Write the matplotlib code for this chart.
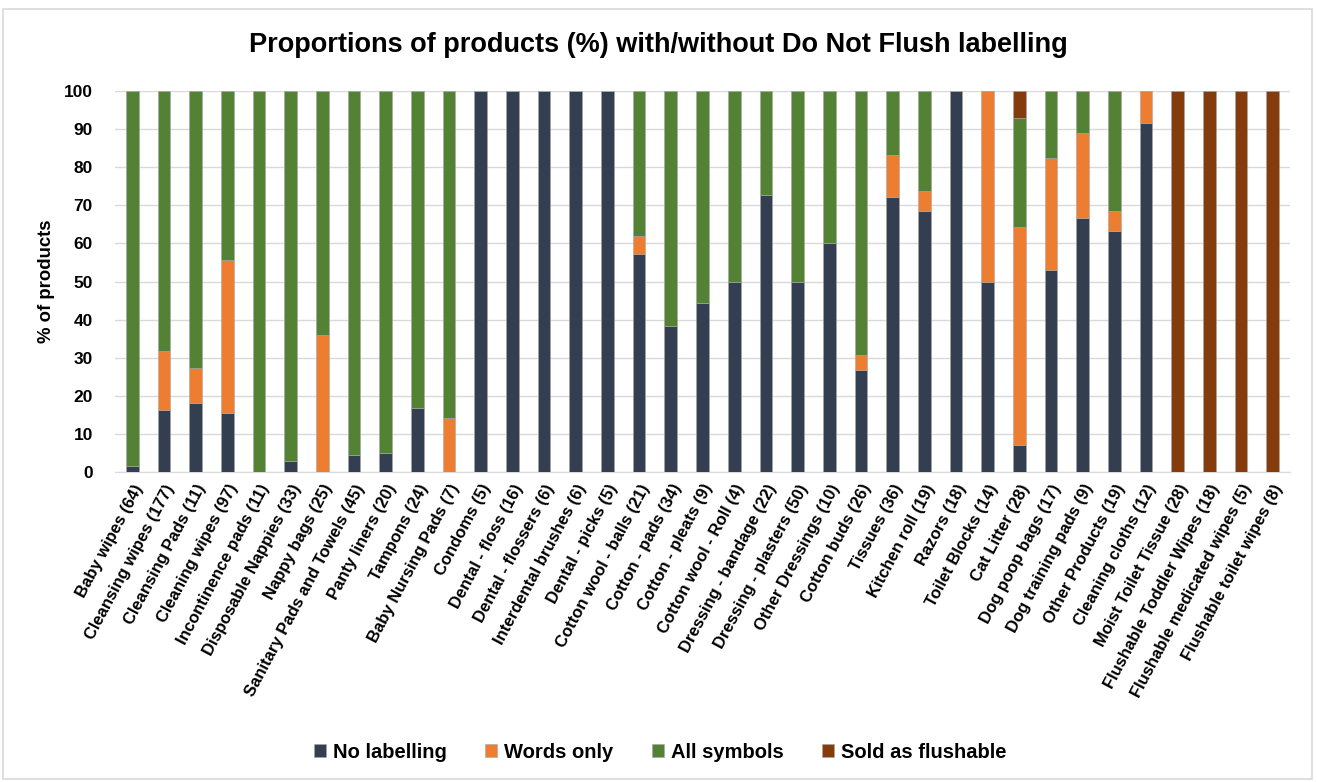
import matplotlib
matplotlib.use("Agg")
import matplotlib.pyplot as plt
from matplotlib.patches import Rectangle
import numpy as np

plt.rcParams['font.family'] = ['Liberation Sans', 'DejaVu Sans']

categories = [
    "Baby wipes (64)", "Cleansing wipes (177)", "Cleansing Pads (11)", "Cleaning wipes (97)",
    "Incontinence pads (11)", "Disposable Nappies (33)", "Nappy bags (25)",
    "Sanitary Pads and Towels (45)", "Panty liners (20)", "Tampons (24)",
    "Baby Nursing Pads (7)", "Condoms (5)", "Dental - floss (16)", "Dental - flossers (6)",
    "Interdental brushes (6)", "Dental - picks (5)", "Cotton wool - balls (21)",
    "Cotton - pads (34)", "Cotton - pleats (9)", "Cotton wool - Roll (4)",
    "Dressing - bandage (22)", "Dressing - plasters (50)", "Other Dressings (10)",
    "Cotton buds (26)", "Tissues (36)", "Kitchen roll (19)", "Razors (18)",
    "Toilet Blocks (14)", "Cat Litter (28)", "Dog poop bags (17)", "Dog training pads (9)",
    "Other Products (19)", "Cleaning cloths (12)", "Moist Toilet Tissue (28)",
    "Flushable Toddler Wipes (18)", "Flushable medicated wipes (5)", "Flushable toilet wipes (8)",
]

no_labelling = [1.6, 16.4, 18.2, 15.5, 0, 3.0, 0, 4.4, 5.0, 16.7,
                0, 100, 100, 100, 100, 100, 57.1, 38.2, 44.4, 50.0,
                72.7, 50.0, 60.0, 26.9, 72.2, 68.4, 100, 50.0, 7.1, 52.9,
                66.7, 63.2, 91.7, 0, 0, 0, 0]
words_only = [0, 15.3, 9.1, 40.2, 0, 0, 36.0, 0, 0, 0,
              14.3, 0, 0, 0, 0, 0, 4.8, 0, 0, 0,
              0, 0, 0, 3.9, 11.1, 5.3, 0, 50.0, 57.2, 29.4,
              22.2, 5.2, 8.3, 0, 0, 0, 0]
all_symbols = [98.4, 68.3, 72.7, 44.3, 100, 97.0, 64.0, 95.6, 95.0, 83.3,
               85.7, 0, 0, 0, 0, 0, 38.1, 61.8, 55.6, 50.0,
               27.3, 50.0, 40.0, 69.2, 16.7, 26.3, 0, 0, 28.6, 17.7,
               11.1, 31.6, 0, 0, 0, 0, 0]
sold_flushable = [0, 0, 0, 0, 0, 0, 0, 0, 0, 0,
                  0, 0, 0, 0, 0, 0, 0, 0, 0, 0,
                  0, 0, 0, 0, 0, 0, 0, 0, 7.1, 0,
                  0, 0, 0, 100, 100, 100, 100]

series = [("No labelling", no_labelling, "#333F50"),
          ("Words only", words_only, "#ED7D31"),
          ("All symbols", all_symbols, "#548235"),
          ("Sold as flushable", sold_flushable, "#843C0C")]

W, H = 1317, 782
fig = plt.figure(figsize=(W / 100, H / 100), dpi=100)
fig.patches.append(Rectangle((3 / W, 3 / H), 1 - 8 / W, 1 - 12 / H, transform=fig.transFigure,
                             fill=False, edgecolor="#D9D9D9", linewidth=1.2))

ax = fig.add_axes([115 / W, 1 - 472 / H, (1290 - 115) / W, (472 - 91) / H])
x = np.arange(len(categories))
bottom = np.zeros(len(categories))
for name, vals, col in series:
    v = np.array(vals, dtype=float)
    ax.bar(x, v, width=0.4, bottom=bottom, color=col, label=name,
           edgecolor="#A6A6A6", linewidth=0.4, zorder=3)
    bottom += v

ax.set_xlim(-0.55, len(categories) - 0.45)
ax.set_ylim(0, 100)
ax.set_yticks(range(0, 101, 10))
ax.yaxis.grid(True, color="#D9D9D9", linewidth=1, zorder=0)
for s in ["top", "right", "left"]:
    ax.spines[s].set_visible(False)
ax.spines["bottom"].set_color("#D9D9D9")
ax.tick_params(axis="both", length=0, labelsize=12.5)
ax.tick_params(axis="y", pad=16)
for lab in ax.get_yticklabels():
    lab.set_fontweight("bold")
ax.set_xticks(x)
ax.set_xticklabels(categories, rotation=62, ha="right", rotation_mode="anchor",
                   fontsize=12, fontweight="bold")
ax.tick_params(axis="x", pad=7)
ax.set_ylabel("% of products", fontsize=13.3, fontweight="bold", labelpad=6)

fig.text(0.5, 1 - 45 / H, "Proportions of products (%) with/without Do Not Flush labelling",
         ha="center", va="center", fontsize=19.5, fontweight="bold")

fig.legend(loc="center", bbox_to_anchor=(660 / W, 1 - 752 / H), ncol=4, frameon=False,
           prop={"size": 14.5, "weight": "bold"}, handlelength=0.6, handleheight=0.6,
           columnspacing=1.9, handletextpad=0.35)

fig.savefig("out.png", dpi=100)
